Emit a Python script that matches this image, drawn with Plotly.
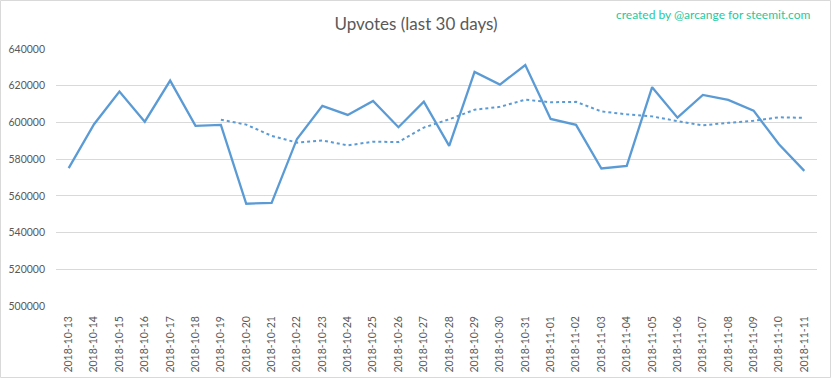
import plotly.graph_objects as go

dates = ["2018-10-13", "2018-10-14", "2018-10-15", "2018-10-16", "2018-10-17", "2018-10-18",
         "2018-10-19", "2018-10-20", "2018-10-21", "2018-10-22", "2018-10-23", "2018-10-24",
         "2018-10-25", "2018-10-26", "2018-10-27", "2018-10-28", "2018-10-29", "2018-10-30",
         "2018-10-31", "2018-11-01", "2018-11-02", "2018-11-03", "2018-11-04", "2018-11-05",
         "2018-11-06", "2018-11-07", "2018-11-08", "2018-11-09", "2018-11-10", "2018-11-11"]

upvotes = [575100, 599000, 616800, 600400, 622800, 598100,
           598700, 555700, 556200, 591000, 609000, 604100,
           611700, 597400, 611300, 587200, 627500, 620600,
           631300, 601900, 598700, 574900, 576300, 619200,
           602600, 615000, 612300, 606400, 588100, 573600]

# 7-day moving average (dotted trendline)
moving_avg = [None, None, None, None, None, None,
              601500, 598800, 592700, 589000, 590200, 587500,
              589500, 589300, 597200, 601700, 606900, 608500,
              612400, 611000, 611200, 606000, 604400, 603300,
              600700, 598400, 599800, 600900, 602800, 602500]

y_ticks = [500000, 520000, 540000, 560000, 580000, 600000, 620000, 640000]

BLUE = "#5B9BD5"
FONT = "Lato"

fig = go.Figure()
fig.add_trace(go.Scatter(x=dates, y=upvotes, mode="lines",
                         line=dict(color=BLUE, width=2.3), showlegend=False))
fig.add_trace(go.Scatter(x=dates, y=moving_avg, mode="lines",
                         line=dict(color=BLUE, width=2, dash="dot"), showlegend=False))

L, R, T, B = 56, 15, 49, 73
W, H = 832, 379
pw, ph = W - L - R, H - T - B

fig.update_layout(
    width=W, height=H,
    margin=dict(l=L, r=R, t=T, b=B, pad=0, autoexpand=False),
    paper_bgcolor="white", plot_bgcolor="white",
    font=dict(family=FONT, color="#595959"),
    title=dict(text="Upvotes (last 30 days)", x=0.5, xanchor="center",
               y=1 - 24 / H, yanchor="middle",
               font=dict(family=FONT, size=17, color="#595959")),
    xaxis=dict(type="category", categoryorder="array", categoryarray=dates,
               range=[-0.5, len(dates) - 0.5], showgrid=False, zeroline=False,
               showline=False, tickangle=-90, tickfont=dict(size=10.5, color="#595959"),
               ticks="", ticklabelstandoff=7, automargin=False),
    yaxis=dict(range=[500000, 640000], tickvals=y_ticks,
               ticktext=[str(v) for v in y_ticks],
               showgrid=True, gridcolor="#D9D9D9", gridwidth=1, zeroline=False,
               showline=False, ticks="", tickfont=dict(size=10.5, color="#595959"),
               ticklabelstandoff=10, automargin=False),
    annotations=[dict(text="created by @arcange for steemit.com", xref="paper", yref="paper",
                      x=(813 - L) / pw, y=(H - B - 14) / ph, xanchor="right", yanchor="middle",
                      showarrow=False, font=dict(family=FONT, size=12, color="#1FC9A0"))],
    shapes=[dict(type="rect", xref="paper", yref="paper",
                 x0=(0.5 - L) / pw, x1=(830.5 - L) / pw,
                 y0=(H - B - 377.5) / ph, y1=(H - B - 0.5) / ph,
                 line=dict(color="#D9D9D9", width=1), layer="below")],
)

fig.write_html("out.html", config={"displayModeBar": False},
               post_script="document.body.style.margin='0';document.body.style.overflow='hidden';")
